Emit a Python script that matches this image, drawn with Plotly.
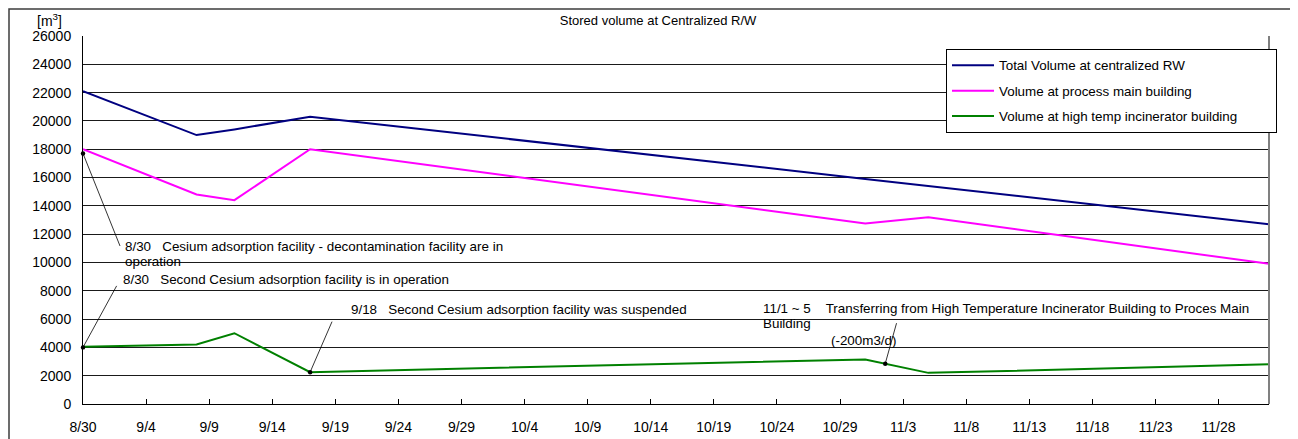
import plotly.graph_objects as go

# ---------------- data ----------------
dates = ["2011-08-30", "2011-09-08", "2011-09-11", "2011-09-17",
         "2011-10-31", "2011-11-05", "2011-12-02"]
total_volume = [22100, 19000, 19400, 20300, 15900, 15400, 12700]
process_main = [18000, 14800, 14400, 18000, 12750, 13200, 9900]
high_temp = [4050, 4200, 5000, 2250, 3150, 2200, 2800]

series_names = ["Total Volume at centralized RW",
                "Volume at process main building",
                "Volume at high temp incinerator building"]
series_colors = ["#000080", "#FF00FF", "#008000"]

tick_dates = ["2011-08-30", "2011-09-04", "2011-09-09", "2011-09-14", "2011-09-19",
              "2011-09-24", "2011-09-29", "2011-10-04", "2011-10-09", "2011-10-14",
              "2011-10-19", "2011-10-24", "2011-10-29", "2011-11-03", "2011-11-08",
              "2011-11-13", "2011-11-18", "2011-11-23", "2011-11-28"]
tick_labels = ["8/30", "9/4", "9/9", "9/14", "9/19", "9/24", "9/29", "10/4", "10/9",
               "10/14", "10/19", "10/24", "10/29", "11/3", "11/8", "11/13", "11/18",
               "11/23", "11/28"]
y_ticks = list(range(0, 26001, 2000))
x_range = ["2011-08-30", "2011-12-02"]

# event markers (annotation anchors)
event_dates = ["2011-08-30", "2011-08-30", "2011-09-17", "2011-11-01 14:00"]
event_values = [17700, 4000, 2250, 2850]

# ---------------- layout helpers (screen coordinates) ----------------
W, H = 1298, 439
L, R, T, B = 83, 1269, 36, 403   # plot area as seen on screen


def px(x):
    return (x - L) / (R - L)


def py(y):
    return (B - y) / (B - T)


FONT = "Liberation Sans, Arial, sans-serif"

fig = go.Figure()
for i, (name, vals, col) in enumerate(zip(series_names, [total_volume, process_main, high_temp],
                                          series_colors)):
    label = name + ("\u00a0" * 9 if i == 2 else "")
    fig.add_trace(go.Scatter(x=dates, y=vals, mode="lines", name=label,
                             line=dict(color=col, width=2), legendgroup=name))

annotations = []
annotations.append(dict(xref="paper", yref="paper", x=px(49), y=py(20), text="[m<sup>3</sup>]",
                        showarrow=False, xanchor="center", yanchor="middle",
                        font=dict(size=14, color="black", family=FONT)))

nb = "\u00a0"
texts = [
    ("8/30" + nb * 3 + "Cesium adsorption facility - decontamination facility are in", 123, 246),
    ("operation", 123, 261),
    ("8/30" + nb * 3 + "Second Cesium adsorption facility is in operation", 121, 279),
    ("9/18" + nb * 3 + "Second Cesium adsorption facility was suspended", 349, 309),
    ("11/1 ~ 5" + nb * 4 + "Transferring from High Temperature Incinerator Building to Proces Main", 761, 308),
    ("Building", 761, 323),
    ("(-200m3/d)", 829, 340),
]
for t, x, y in texts:
    annotations.append(dict(xref="paper", yref="paper", x=px(x), y=py(y), text=t,
                            showarrow=False, xanchor="left", yanchor="middle",
                            font=dict(size=13.4, color="black", family=FONT)))

offsets = [(38, 95), (35, -64), (23, -53), (12, -43)]
for d, v, (ax, ay) in zip(event_dates, event_values, offsets):
    annotations.append(dict(xref="x", yref="y", x=d, y=v, text=" ", showarrow=True,
                            arrowhead=6, arrowsize=1.4, arrowwidth=0.8, arrowcolor="black",
                            ax=ax, ay=ay, standoff=0, startstandoff=0,
                            font=dict(size=2)))

shapes = [
    dict(type="line", xref="paper", yref="paper", x0=1, x1=1, y0=0, y1=1,
         line=dict(color="#808080", width=2)),
    dict(type="rect", xref="paper", yref="paper", x0=px(9), x1=px(1400), y0=py(9), y1=py(520),
         line=dict(color="#3c3c3c", width=1.5)),
]

fig.update_layout(
    width=W, height=H, autosize=False,
    margin=dict(l=75, r=37, t=28, b=37, pad=0),
    paper_bgcolor="white", plot_bgcolor="white",
    font=dict(family=FONT, color="black", size=13),
    title=dict(text="Stored volume at Centralized R/W", xref="container", x=650 / W,
               y=1 - 12 / H, xanchor="center", yanchor="middle",
               font=dict(size=13, color="black", family=FONT)),
    legend=dict(x=px(946), y=py(49), xanchor="left", yanchor="top",
                bordercolor="black", borderwidth=1, bgcolor="white",
                font=dict(size=13.4, family=FONT, color="black"),
                traceorder="grouped", tracegroupgap=5, itemwidth=42),
    annotations=annotations,
    shapes=shapes,
    showlegend=True,
)

fig.update_xaxes(type="date", range=x_range, tickvals=tick_dates, ticktext=tick_labels,
                 showgrid=False, showline=True, linecolor="black", linewidth=1,
                 ticks="inside", ticklen=5, tickcolor="black", tickwidth=1,
                 ticklabelstandoff=10,
                 tickfont=dict(size=14, family=FONT, color="black"), zeroline=False)
fig.update_yaxes(range=[0, 26000], tickvals=y_ticks, tickformat="d",
                 showgrid=True, gridcolor="#1a1a1a", gridwidth=1,
                 showline=True, linecolor="black", linewidth=1, ticks="",
                 ticklabelstandoff=8,
                 tickfont=dict(size=14, family=FONT, color="black"), zeroline=False)

fig.write_html("out.html")
